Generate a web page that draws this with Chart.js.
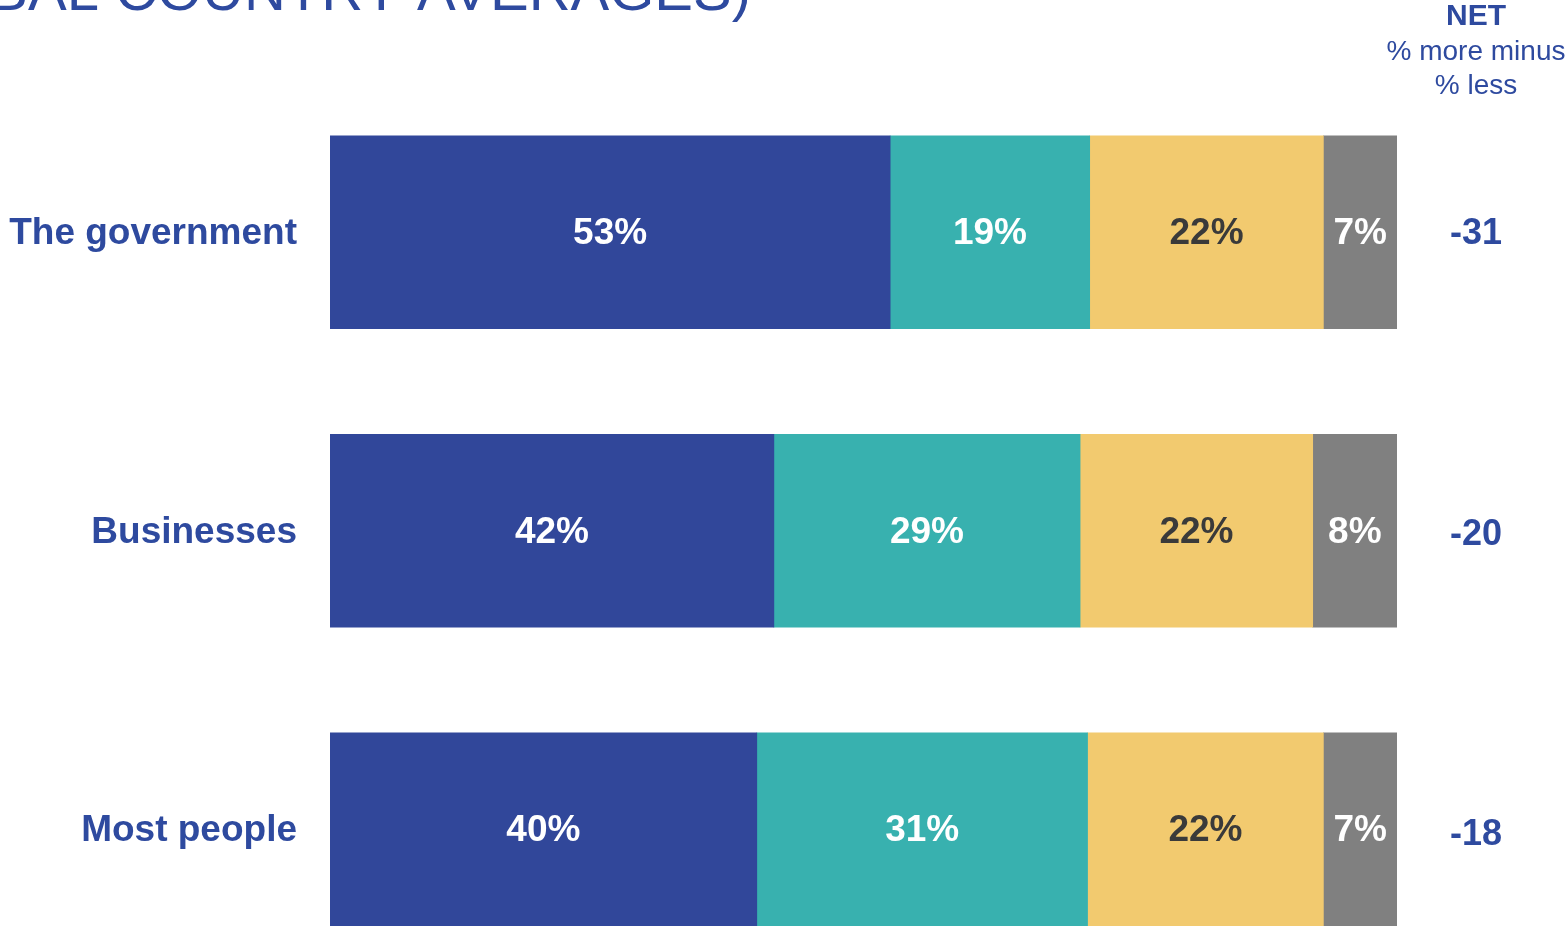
<!DOCTYPE html>
<html>
<head>
<meta charset="utf-8">
<script src="https://cdn.jsdelivr.net/npm/chart.js@4/dist/chart.umd.min.js"></script>
<style>
  html, body { margin: 0; padding: 0; background: #fff; overflow: hidden; }
  #wrap { position: absolute; left: 0; top: 0; width: 1568px; height: 927px; }
</style>
</head>
<body>
<div id="wrap"><canvas id="chart" width="1568" height="927"></canvas></div>
<script>
const categories = ["The government", "Businesses", "Most people"];
// bar widths (each row adds up to 100)
const lessValues = [52.5, 41.6, 40.0];
const sameValues = [18.7, 28.7, 31.0];
const moreValues = [21.9, 21.8, 22.1];
const dkValues = [6.9, 7.9, 6.9];
const netValues = [-31, -20, -18];

const seriesNames = ["Less", "About the same", "More", "Don't know"];
const seriesColors = ["#31479A", "#38B1AF", "#F2CA6F", "#808080"];
const labelColors = ["#FFFFFF", "#FFFFFF", "#3A3A3A", "#FFFFFF"];
const textBlue = "#2E4A9F";
const FONT = "'Liberation Sans', Arial, sans-serif";

const allSeries = [lessValues, sameValues, moreValues, dkValues];

const segmentLabels = {
  id: "segmentLabels",
  afterDatasetsDraw(chart) {
    const ctx = chart.ctx;
    ctx.save();
    ctx.font = "bold 37px " + FONT;
    ctx.textAlign = "center";
    ctx.textBaseline = "middle";
    chart.data.datasets.forEach((ds, di) => {
      const meta = chart.getDatasetMeta(di);
      meta.data.forEach((bar, i) => {
        const p = bar.getProps(["x", "y", "base"], true);
        ctx.fillStyle = labelColors[di];
        ctx.fillText(Math.round(ds.data[i].x) + "%", (p.x + p.base) / 2, p.y + 2);
      });
    });

    // NET column
    const yScale = chart.scales.y;
    ctx.fillStyle = textBlue;
    ctx.font = "bold 36px " + FONT;
    netValues.forEach((v, i) => {
      ctx.fillText(String(v), 1476, yScale.getPixelForValue(i) + 2 + i * 2);
    });
    ctx.font = "bold 30px " + FONT;
    ctx.fillText("NET", 1476, 17);
    ctx.font = "28px " + FONT;
    ctx.fillText("% more minus", 1476, 52);
    ctx.fillText("% less", 1476, 86);

    // title, cut off by the top edge
    ctx.font = "58px " + FONT;
    ctx.textAlign = "right";
    ctx.textBaseline = "alphabetic";
    ctx.fillText("(GLOBAL COUNTRY AVERAGES)", 751, 10);
    ctx.restore();
  }
};

new Chart(document.getElementById("chart"), {
  type: "bar",
  data: {
    labels: categories,
    datasets: allSeries.map((vals, i) => ({
      label: seriesNames[i],
      data: vals.map((v, j) => ({ x: v, y: j })),
      backgroundColor: seriesColors[i],
      borderWidth: 0,
      barThickness: 193
    }))
  },
  options: {
    indexAxis: "y",
    responsive: false,
    devicePixelRatio: 1,
    animation: false,
    layout: { padding: { top: 83, bottom: 0, left: 0, right: 171 } },
    plugins: {
      legend: { display: false },
      tooltip: { enabled: false }
    },
    scales: {
      x: {
        stacked: true,
        display: false,
        min: 0,
        max: 100
      },
      y: {
        type: "linear",
        stacked: true,
        reverse: true,
        offset: false,
        // last row runs past the bottom edge, as in the original
        min: -0.5,
        max: 2.3275,
        grid: { display: false, drawTicks: false, offset: false },
        border: { display: false },
        afterFit(scale) {
          scale.width = 330;
          scale.paddingTop = 0;
          scale.paddingBottom = 0;
        },
        afterBuildTicks(scale) {
          scale.ticks = categories.map((c, i) => ({ value: i }));
        },
        ticks: {
          padding: 33,
          labelOffset: 2,
          color: textBlue,
          font: { family: FONT, size: 37, weight: "bold" },
          callback: (v) => categories[v]
        }
      }
    }
  },
  plugins: [segmentLabels]
});
</script>
</body>
</html>
